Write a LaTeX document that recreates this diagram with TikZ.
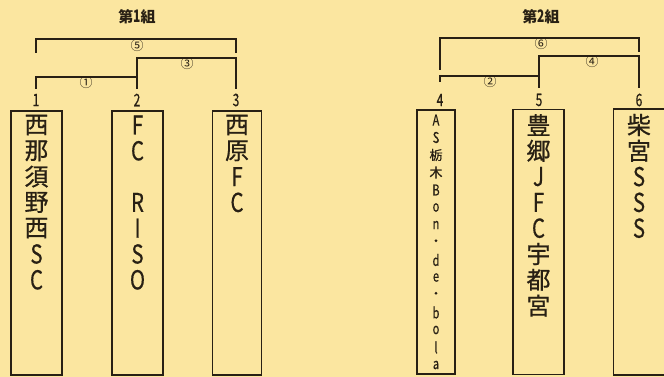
\documentclass[tikz,border=0pt]{standalone}
\usepackage{fontspec}
\usepackage{graphicx}
\newfontfamily\jp{Noto Sans CJK JP}[FakeBold=0.6]
\newfontfamily\jpt{Noto Sans CJK JP}
\definecolor{bg}{RGB}{251,230,160}
\definecolor{ink}{RGB}{40,32,20}
\newcommand\LatBig[1]{\scalebox{0.85}[1.08]{#1}}
\newcommand\LatSm[1]{\scalebox{0.85}[1.15]{#1}}
\newcommand\NumTxt[1]{\scalebox{0.8}[1.15]{#1}}
\begin{document}
\begin{tikzpicture}[x=1pt,y=-1pt,
  ln/.style={draw=ink, line width=1.3pt},
  box/.style={draw=ink, line width=1.4pt, inner sep=0pt},
  cj/.style={font=\jp\fontsize{24}{24}\selectfont, text=ink, inner sep=0pt},
  cjs/.style={font=\jp\fontsize{13}{13}\selectfont, text=ink, inner sep=0pt},
  num/.style={font=\jp\fontsize{15}{15}\selectfont, text=ink, inner sep=0pt},
  ttl/.style={font=\jpt\bfseries\fontsize{15}{15}\selectfont, text=ink, inner sep=0pt},
  circ/.style={font=\jpt\fontsize{13}{13}\selectfont, text=ink, inner sep=0pt}]
\fill[bg] (0,0) rectangle (664,377);
\useasboundingbox (0,0) rectangle (664,377);

% titles
\node[ttl] (g1) at (137,17) {第\NumTxt{1}組};
\node[ttl] (g2) at (541,17) {第\NumTxt{2}組};

% boxes
\node[box, minimum width=51, minimum height=264] (b1) at (36.5,243) {};
\node[box, minimum width=51, minimum height=264] (b2) at (137.5,243) {};
\node[box, minimum width=49, minimum height=264] (b3) at (237,243) {};
\node[box, minimum width=38, minimum height=264] (b4) at (436,242) {};
\node[box, minimum width=51, minimum height=265] (b5) at (538.5,242) {};
\node[box, minimum width=52, minimum height=266] (b6) at (639.5,242) {};

% numbers
\node[num] (n1) at (36,100) {\NumTxt{1}};
\node[num] (n2) at (137,100) {\NumTxt{2}};
\node[num] (n3) at (236,100) {\NumTxt{3}};
\node[num] (n4) at (440,100) {\NumTxt{4}};
\node[num] (n5) at (539,100) {\NumTxt{5}};
\node[num] (n6) at (639,100) {\NumTxt{6}};

% bracket coordinates
\coordinate (c1) at (36,89);
\coordinate (c2) at (137,89);
\coordinate (c3) at (236,89);
\coordinate (r1) at (86,77);
\coordinate (r3) at (187,58);
\coordinate (r5) at (137,39);
\coordinate (t5l) at (36,53);
\coordinate (t5r) at (236,53);

\coordinate (c4) at (440,82);
\coordinate (c5) at (539,88);
\coordinate (c6) at (639,88);
\coordinate (r2) at (490,76);
\coordinate (r4) at (589,56);
\coordinate (r6) at (541,38);
\coordinate (t6l) at (440,70);
\coordinate (t6r) at (639,52);

% group 1 brackets
\draw[ln] (c1) |- (r1) -| (c2);
\draw[ln] (c2 |- r1) |- (r3) -| (c3);
\draw[ln] (t5l) |- (r5) -| (t5r);
% group 2 brackets
\draw[ln] (c4) |- (r2) -| (c5);
\draw[ln] (c5 |- r2) |- (r4) -| (c6);
\draw[ln] (t6l) |- (r6) -| (t6r);

% match labels
\node[circ] (m1) at (86,83) {①};
\node[circ] (m3) at (187,64) {③};
\node[circ] (m5) at (137,46) {⑤};
\node[circ] (m2) at (490,82) {②};
\node[circ] (m4) at (592,62) {④};
\node[circ] (m6) at (541,44) {⑥};

% team names
\foreach \c [count=\i from 0] in {西,那,須,野,西,\LatBig{S},\LatBig{C}}
  \node[cj] (ta\i) at (36.5,{125+25.8*\i}) {\c};
\foreach \c [count=\i from 0] in {\LatBig{F},\LatBig{C},{},\LatBig{R},\LatBig{I},\LatBig{S},\LatBig{O}}
  \node[cj] (tb\i) at (137.5,{125+25.8*\i}) {\c};
\foreach \c [count=\i from 0] in {西,原,\LatBig{F},\LatBig{C}}
  \node[cj] (tc\i) at (237,{125+25.8*\i}) {\c};
\foreach \c [count=\i from 0] in {\LatSm{A},\LatSm{S},栃,木,\LatSm{B},\LatSm{o},\LatSm{n},・,\LatSm{d},\LatSm{e},・,\LatSm{b},\LatSm{o},\LatSm{l},\LatSm{a}}
  \node[cjs] (td\i) at (436,{120+17.5*\i}) {\c};
\foreach \c [count=\i from 0] in {豊,郷,\LatBig{J},\LatBig{F},\LatBig{C},宇,都,宮}
  \node[cj] (te\i) at (538.5,{125+25.8*\i}) {\c};
\foreach \c [count=\i from 0] in {柴,宮,\LatBig{S},\LatBig{S},\LatBig{S}}
  \node[cj] (tf\i) at (639,{125+25.8*\i}) {\c};
\end{tikzpicture}
\end{document}
